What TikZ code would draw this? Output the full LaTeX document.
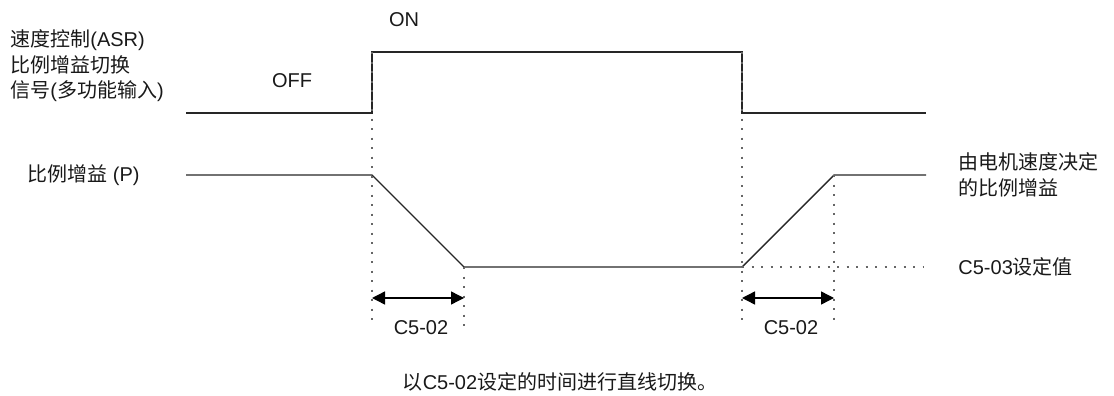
\documentclass[tikz,border=0pt]{standalone}
\usepackage{fontspec}
\setmainfont{Liberation Sans}
\newfontfamily\cjk{Noto Sans CJK SC}
\usetikzlibrary{arrows.meta}

\begin{document}
\begin{tikzpicture}[x=0.5pt,y=-0.5pt,
    >={Triangle[length=6.5pt,width=6.5pt]},
    sig/.style={line width=0.7pt,black!85},
    guide/.style={line width=1pt,black!60,dash pattern=on 1pt off 3.75pt},
    lbl/.style={inner sep=0pt,font=\fontsize{10}{12.75}\selectfont,text=black!90}]
    % page frame, in pixels of the reference
    \useasboundingbox (0,0) rectangle (1114,396);

    % Define convenient levels (y) and switching times (x)
    \def\yon{52}
    \def\yoff{113}
    \def\yhi{175}
    \def\ylo{267}
    \def\tA{372}
    \def\tB{464}
    \def\tC{742}
    \def\tD{834}

    % 1) Switching signal (OFF - ON - OFF)
    \coordinate (s0) at (186,\yoff);
    \coordinate (s1) at (\tA,\yoff);
    \coordinate (s2) at (\tA,\yon);
    \coordinate (s3) at (\tC,\yon);
    \coordinate (s4) at (\tC,\yoff);
    \coordinate (s5) at (926,\yoff);
    \draw[sig] (s0) -- (s1) -- (s2) -- (s3) -- (s4) -- (s5);

    % 2) Proportional gain (P)
    \coordinate (g0) at (186,\yhi);
    \coordinate (g1) at (\tA,\yhi);
    \coordinate (g2) at (\tB,\ylo);
    \coordinate (g3) at (\tC,\ylo);
    \coordinate (g4) at (\tD,\yhi);
    \coordinate (g5) at (926,\yhi);
    \draw[sig] (g0) -- (g1) -- (g2) -- (g3) -- (g4) -- (g5);

    % 3) Dotted guide lines
    \coordinate (dA) at (\tA,327);
    \coordinate (dB) at (\tB,327);
    \coordinate (dC) at (\tC,327);
    \coordinate (dD) at (\tD,327);
    \coordinate (dE) at (923,\ylo);
    \draw[guide] (s2) -- (dA);
    \draw[guide] (g2) -- (dB);
    \draw[guide] (s3) -- (dC);
    \draw[guide] (g4) -- (dD);
    \draw[guide] (g3) -- (dE);

    % 4) Switching times C5-02
    \coordinate (a1) at (\tA,298);
    \coordinate (a2) at (\tB,298);
    \coordinate (a3) at (\tC,298);
    \coordinate (a4) at (\tD,298);
    \draw[<->,line width=0.7pt] (a1) -- (a2);
    \draw[<->,line width=0.7pt] (a3) -- (a4);
    \node[lbl] (t1) at (421,328) {C5-02};
    \node[lbl] (t2) at (791,328) {C5-02};

    % 5) Labels
    \node[lbl] (on) at (404,20) {ON};
    \node[lbl] (off) at (292,81) {OFF};
    \node[lbl,anchor=west,align=left] (asr) at (10,66)
      {{\cjk 速度控制}(ASR)\\{\cjk 比例增益切换}\\{\cjk 信号}({\cjk 多功能输入})};
    \node[lbl,anchor=west] (gain) at (27,175) {{\cjk 比例增益} (P)};
    \node[lbl,anchor=west,align=left] (motor) at (958,175)
      {{\cjk 由电机速度决定}\\{\cjk 的比例增益}};
    \node[lbl,anchor=west] (c503) at (958,267) {C5-03{\cjk 设定值}};
    \node[lbl] (note) at (560,382) {{\cjk 以}C5-02{\cjk 设定的时间进行直线切换。}};
\end{tikzpicture}
\end{document}
